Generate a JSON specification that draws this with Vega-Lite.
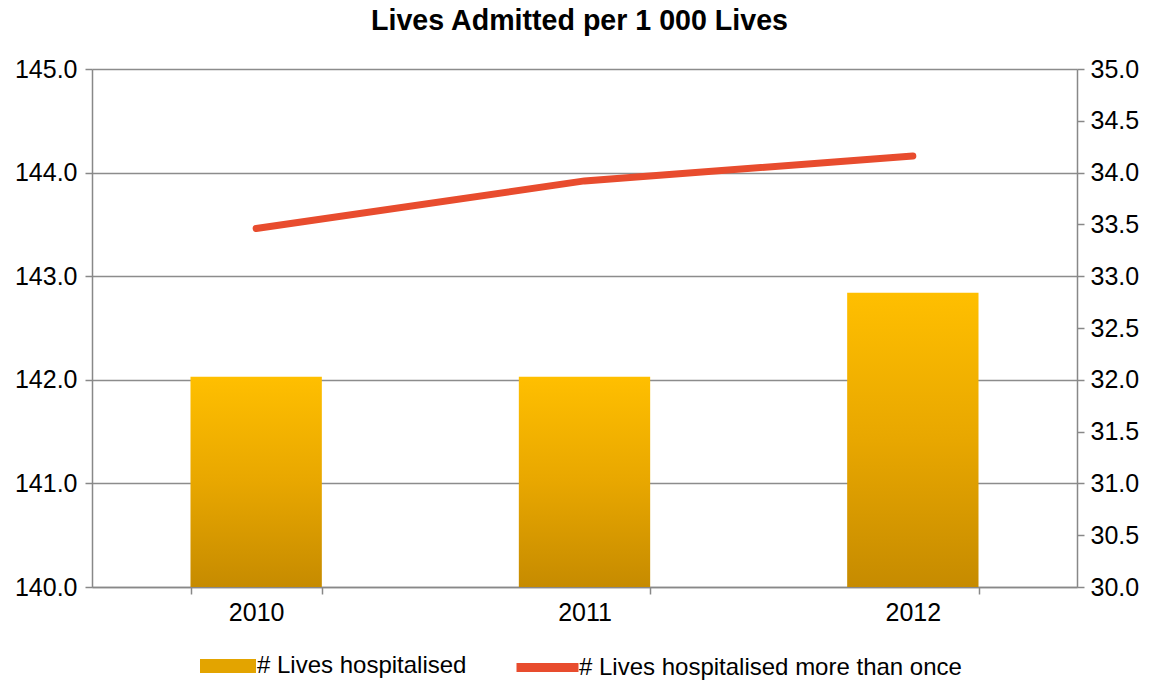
{
  "$schema": "https://vega.github.io/schema/vega-lite/v6.json",
  "width": 985,
  "height": 518,
  "autosize": {"type": "none"},
  "padding": {"left": 92, "top": 69, "right": 72, "bottom": 95},
  "background": "white",
  "config": {
    "font": "Liberation Sans",
    "view": {"stroke": null},
    "axis": {"labelFont": "Liberation Sans", "labelFontSize": 25, "labelColor": "#000000", "domainColor": "#888888", "tickColor": "#888888", "gridColor": "#8c8c8c", "domainWidth": 1.5, "tickWidth": 1.5, "gridWidth": 1.5, "tickSize": 7}
  },
  "title": {"text": "Lives Admitted per 1 000 Lives", "font": "Liberation Sans", "fontSize": 28.6, "fontWeight": "bold", "color": "#000000", "anchor": "middle", "offset": 21, "dx": -5},
  "data": {"values": [
    {"year": "2010", "hosp": 142.03, "more": 33.46},
    {"year": "2011", "hosp": 142.03, "more": 33.92},
    {"year": "2012", "hosp": 142.84, "more": 34.16}
  ]},
  "encoding": {
    "x": {"field": "year", "type": "nominal", "title": null, "scale": {"paddingInner": 0.6, "paddingOuter": 0.3}, "axis": {"labelAngle": 0, "tickBand": "extent", "labelPadding": 6, "grid": false, "labelFontSize": 25}}
  },
  "layer": [
    {
      "mark": {"type": "bar", "fill": {"gradient": "linear", "x1": 0, "y1": 0, "x2": 0, "y2": 1, "stops": [{"offset": 0, "color": "#FFBF00"}, {"offset": 0.5, "color": "#E8A700"}, {"offset": 1, "color": "#C68B00"}]}},
      "encoding": {
        "y": {"field": "hosp", "type": "quantitative", "title": null, "scale": {"domain": [140, 145], "zero": false, "nice": false}, "axis": {"values": [140, 141, 142, 143, 144, 145], "format": ".1f", "grid": true, "labelPadding": 8, "labelFontSize": 25}},
        "y2": {"datum": 140}
      }
    },
    {
      "mark": {"type": "line", "color": "#E84C2E", "strokeWidth": 7, "strokeCap": "round"},
      "encoding": {
        "y": {"field": "more", "type": "quantitative", "title": null, "scale": {"domain": [30, 35], "zero": false, "nice": false}, "axis": {"orient": "right", "values": [30, 30.5, 31, 31.5, 32, 32.5, 33, 33.5, 34, 34.5, 35], "format": ".1f", "grid": false, "labelPadding": 6, "labelFontSize": 25}},
        "stroke": {"datum": "# Lives hospitalised more than once", "type": "nominal", "scale": {"domain": ["# Lives hospitalised more than once"], "range": ["#E84C2E"]}, "legend": {"orient": "none", "legendX": 420, "legendY": 563, "padding": 0, "title": null, "symbolType": "stroke", "symbolSize": 3844, "symbolStrokeWidth": 9, "labelFontSize": 24, "labelLimit": 600, "labelFont": "Liberation Sans", "labelColor": "#000000", "labelOffset": -4}}
      }
    },
    {
      "mark": {"type": "point", "filled": true, "opacity": 0},
      "encoding": {
        "fill": {"datum": "# Lives hospitalised", "type": "nominal", "scale": {"domain": ["# Lives hospitalised"], "range": ["#E3A400"]}, "legend": {"orient": "none", "legendX": 108, "legendY": 569, "padding": 0, "title": null, "symbolType": "M-1,-0.25H1V0.25H-1Z", "symbolSize": 3136, "symbolStrokeWidth": 0, "symbolOpacity": 1, "labelFontSize": 24, "labelLimit": 600, "labelFont": "Liberation Sans", "labelColor": "#000000", "labelOffset": 1}}
      }
    }
  ],
  "resolve": {"scale": {"y": "independent", "fill": "independent", "stroke": "independent"}}
}
